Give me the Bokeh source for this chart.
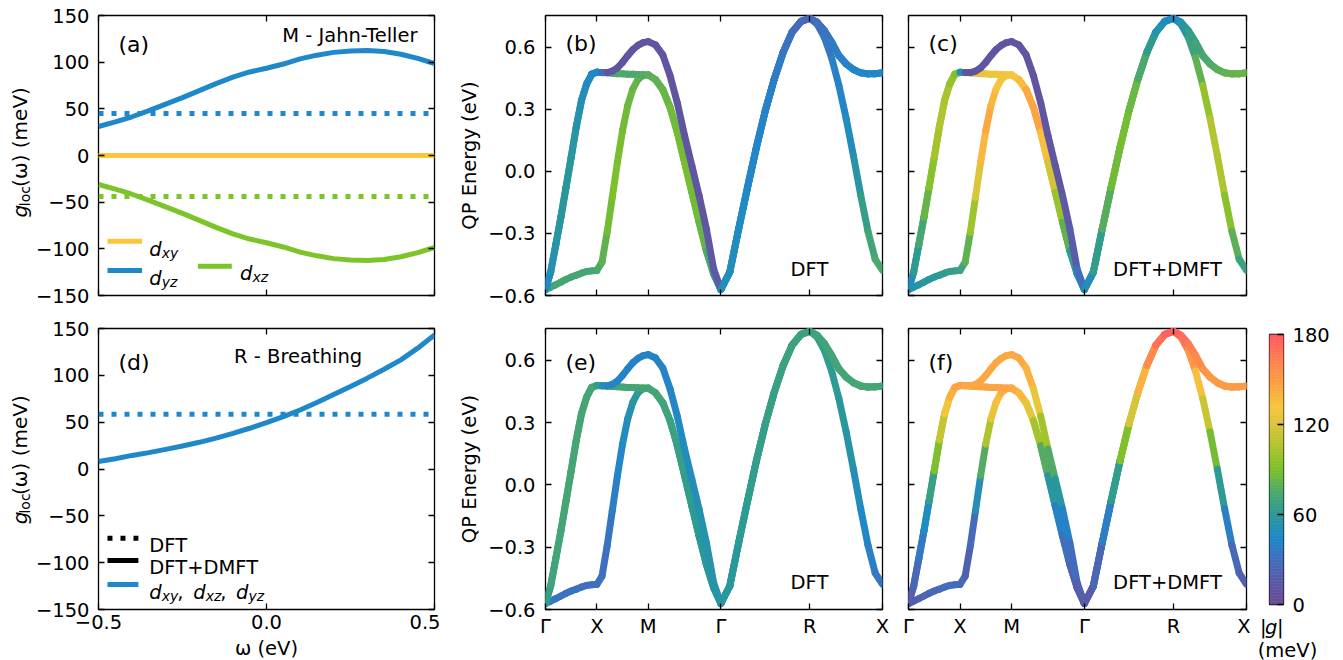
import numpy as np
from bokeh.plotting import figure
from bokeh.models import (ColumnDataSource, FixedTicker, LinearAxis, Label,
                          Spacer, CustomJSTickFormatter)
from bokeh.layouts import row, column
from bokeh.transform import linear_cmap
from bokeh.embed import file_html
from bokeh.resources import INLINE

FONT = "DejaVu Sans"
FS = "19.5px"

# ---------------- data: local coupling g_loc(omega) ----------------
OMEGA = [-0.5, -0.45, -0.4, -0.35, -0.3, -0.25, -0.2, -0.15, -0.1, -0.05, 0.0,
         0.05, 0.1, 0.15, 0.2, 0.25, 0.3, 0.35, 0.4, 0.45, 0.5]
M_DYZ_DMFT = [31, 36, 41.5, 48, 55, 62, 69.5, 77, 84, 89.5, 93.5,
              98, 103.5, 107.5, 110.5, 112, 112.5, 111.5, 108.5, 104, 98.5]
M_DXZ_DMFT = [-31, -36, -41.5, -48, -55, -62, -69.5, -77, -84, -89.5, -93.5,
              -98, -103.5, -107.5, -110.5, -112, -112.5, -111.5, -108.5, -104, -98.5]
M_DXY_DMFT = [0] * 21
M_DYZ_DFT = 45
M_DXZ_DFT = -44
M_DXY_DFT = 0
R_ALL_DMFT = [8, 11, 14.5, 17.5, 21, 24.5, 28.5, 33, 38, 43.5, 49.5,
              56, 63, 71, 79.5, 88, 97, 106.5, 116.5, 129, 143]
R_ALL_DFT = 58.5

# ---------------- data: QP bands along the k-path ----------------
KPTS = [0.0, 0.5, 1.0, 1.7071, 2.5731, 3.2802]
KLABELS = ["Γ", "X", "M", "Γ", "R", "X"]

E_A_GX = [-0.571, -0.487, -0.355, -0.221, -0.077, 0.068, 0.216, 0.342, 0.422, 0.469, 0.479]
E_B_GX = [-0.571, -0.560, -0.548, -0.535, -0.522, -0.511, -0.502, -0.492, -0.484, -0.481, -0.479]
E_C_XM = [0.479, 0.477, 0.477, 0.484, 0.500, 0.527, 0.559, 0.588, 0.609, 0.622, 0.627]
E_D_XM = [0.479, 0.477, 0.476, 0.474, 0.472, 0.471, 0.469, 0.469, 0.468, 0.467, 0.466]
E_B_XM = [-0.479, -0.439, -0.294, -0.125, 0.044, 0.197, 0.318, 0.398, 0.444, 0.463, 0.466]
E_C_MG = [0.627, 0.611, 0.563, 0.463, 0.331, 0.173, 0.028, -0.117, -0.278, -0.471, -0.571]
E_D_MG = [0.466, 0.443, 0.395, 0.310, 0.189, 0.044, -0.101, -0.246, -0.383, -0.495, -0.571]
E_T_GR = [-0.571, -0.487, -0.278, -0.077, 0.117, 0.294, 0.446, 0.575, 0.672, 0.724, 0.740]
E_U_RX = [0.740, 0.720, 0.680, 0.624, 0.559, 0.519, 0.492, 0.476, 0.471, 0.472, 0.476]
E_L_RX = [0.740, 0.712, 0.648, 0.548, 0.415, 0.255, 0.075, -0.115, -0.290, -0.425, -0.479]

# |g| (meV) along the bands: (b) M-mode DFT
GB = dict(
    A_GX=[45, 50, 55, 58, 58, 58, 56, 52, 48, 45, 45],
    B_GX=[60, 68, 70, 72, 72, 72, 72, 72, 72, 72, 72],
    C_XM=[45, 45, 10, 10, 10, 10, 10, 10, 10, 10, 10],
    D_XM=[45, 75, 75, 75, 75, 75, 75, 75, 75, 76, 78],
    B_XM=[72, 78, 85, 90, 90, 88, 86, 84, 82, 80, 78],
    C_MG=[10, 10, 10, 10, 10, 10, 10, 10, 12, 14, 15],
    D_MG=[78, 80, 83, 85, 87, 88, 88, 86, 80, 70, 55],
    T_GR=[50, 50, 48, 45, 43, 42, 40, 35, 30, 27, 25],
    U_RX=[25, 28, 32, 36, 40, 42, 43, 44, 44, 44, 44],
    L_RX=[25, 28, 33, 38, 42, 45, 52, 60, 68, 74, 76],
)
# (c) M-mode DFT+DMFT
GC = dict(
    A_GX=[45, 55, 68, 78, 88, 98, 106, 106, 100, 94, 90],
    B_GX=[45, 50, 55, 57, 58, 58, 60, 62, 64, 65, 65],
    C_XM=[90, 10, 10, 10, 10, 10, 10, 10, 10, 10, 10],
    D_XM=[90, 122, 125, 125, 125, 125, 126, 127, 128, 130, 130],
    B_XM=[65, 72, 90, 110, 130, 148, 142, 135, 130, 130, 130],
    C_MG=[10, 10, 10, 10, 10, 10, 10, 12, 15, 20, 40],
    D_MG=[130, 132, 140, 148, 145, 125, 108, 90, 72, 55, 45],
    T_GR=[45, 55, 72, 85, 88, 88, 82, 68, 55, 48, 45],
    U_RX=[45, 52, 60, 68, 72, 75, 78, 80, 82, 83, 84],
    L_RX=[45, 50, 62, 75, 88, 105, 110, 100, 88, 72, 62],
)
# (e) R-mode DFT
GE = dict(
    A_GX=[62, 68, 70, 72, 72, 72, 72, 72, 72, 72, 72],
    B_GX=[50, 40, 35, 33, 32, 32, 32, 31, 30, 30, 30],
    C_XM=[72, 55, 45, 42, 42, 42, 42, 42, 42, 42, 42],
    D_XM=[72, 72, 72, 72, 72, 72, 72, 72, 72, 72, 72],
    B_XM=[30, 30, 32, 36, 42, 46, 50, 55, 60, 65, 70],
    C_MG=[42, 42, 42, 43, 45, 48, 50, 52, 54, 55, 56],
    D_MG=[72, 72, 70, 68, 66, 64, 62, 60, 58, 57, 56],
    T_GR=[56, 58, 60, 62, 64, 65, 66, 67, 68, 68, 68],
    U_RX=[68, 69, 70, 70, 71, 71, 72, 72, 72, 72, 72],
    L_RX=[68, 66, 64, 62, 60, 57, 53, 48, 42, 37, 34],
)
# (f) R-mode DFT+DMFT
GF = dict(
    A_GX=[15, 22, 30, 42, 55, 78, 102, 122, 138, 145, 148],
    B_GX=[15, 18, 20, 22, 24, 25, 26, 27, 28, 28, 28],
    C_XM=[148, 146, 145, 145, 145, 145, 145, 145, 145, 145, 145],
    D_XM=[148, 147, 146, 146, 146, 146, 146, 146, 146, 146, 146],
    B_XM=[28, 22, 18, 38, 62, 92, 118, 132, 140, 145, 146],
    C_MG=[145, 145, 142, 138, 115, 88, 65, 48, 35, 22, 15],
    D_MG=[146, 142, 135, 115, 90, 66, 48, 35, 25, 18, 15],
    T_GR=[15, 18, 30, 48, 78, 105, 130, 150, 165, 175, 178],
    U_RX=[178, 175, 168, 160, 155, 152, 150, 150, 150, 150, 150],
    L_RX=[178, 172, 160, 145, 125, 100, 75, 48, 32, 20, 18],
)
ENERGY = dict(A_GX=E_A_GX, B_GX=E_B_GX, C_XM=E_C_XM, D_XM=E_D_XM, B_XM=E_B_XM,
              C_MG=E_C_MG, D_MG=E_D_MG, T_GR=E_T_GR, U_RX=E_U_RX, L_RX=E_L_RX)
# which branch each band follows on the 5 path segments (drawn back to front)
BANDS = [
    ["B_GX", "B_XM", "D_MG", "T_GR", "L_RX"],
    ["A_GX", "D_XM", "D_MG", "T_GR", "U_RX"],
    ["A_GX", "C_XM", "C_MG", "T_GR", "U_RX"],
]
CB_TICKS = [0, 60, 120, 180]

# ---------------- styles ----------------
YEL, BLUE, GREEN = "#fbc53f", "#1f88cb", "#7dc42b"
ANCHORS = [(0, "#6a4c93"), (15, "#5b5aa6"), (30, "#3f6fbf"), (45, "#1f88c9"),
           (60, "#2a9a95"), (75, "#4da86c"), (90, "#7cc02b"), (105, "#aec42e"),
           (120, "#dcc53a"), (132, "#f7c63c"), (150, "#fd9c45"), (165, "#ff7d52"),
           (180, "#ff5a5f")]


def build_palette(n=256):
    av = np.array([a[0] for a in ANCHORS], float)
    rgb = np.array([[int(h[i:i + 2], 16) for i in (1, 3, 5)] for _, h in ANCHORS], float)
    out = []
    for v in np.linspace(0, 180, n):
        c = [int(round(np.interp(v, av, rgb[:, j]))) for j in range(3)]
        out.append("#%02x%02x%02x" % tuple(c))
    return out


PALETTE = build_palette()

BAND_Y = (-0.6, 0.753)
GEO = {
    "a": dict(L=97, T=15, W=337, H=280, x=(-0.5, 0.5), y=(-150, 150)),
    "b": dict(L=545, T=15, W=337, H=280, x=(0, KPTS[-1]), y=BAND_Y),
    "c": dict(L=908, T=15, W=338, H=280, x=(0, KPTS[-1]), y=BAND_Y),
    "d": dict(L=97, T=328, W=337, H=281, x=(-0.5, 0.5), y=(-150, 150)),
    "e": dict(L=545, T=328, W=337, H=281, x=(0, KPTS[-1]), y=BAND_Y),
    "f": dict(L=908, T=328, W=338, H=281, x=(0, KPTS[-1]), y=BAND_Y),
    "cb": dict(L=1269, T=334, W=14, H=270, x=(0, 1), y=(0, 180)),
}


def dx(g, px):
    return g["x"][0] + (px - g["L"]) / g["W"] * (g["x"][1] - g["x"][0])


def dy(g, py):
    return g["y"][1] - (py - g["T"]) / g["H"] * (g["y"][1] - g["y"][0])


def label(p, g, px, py, text, size=FS, style="normal", align="left",
          baseline="middle", angle=0.0):
    p.add_layout(Label(x=dx(g, px), y=dy(g, py), text=text, text_font=FONT,
                       text_font_size=size, text_font_style=style,
                       text_align=align, text_baseline=baseline, angle=angle,
                       text_color="black"))


def text_fig(x0, y0, w, h):
    """A bare figure whose frame is the whole canvas, used to hold texts."""
    g = dict(L=x0, T=y0, W=w, H=h, x=(x0, x0 + w), y=(y0 + h, y0))
    p = figure(width=w, height=h, x_range=g["x"], y_range=g["y"],
               output_backend="svg", toolbar_location=None,
               x_axis_location=None, y_axis_location=None,
               min_border_left=0, min_border_right=0,
               min_border_top=0, min_border_bottom=0)
    p.grid.visible = False
    p.outline_line_color = None
    p.border_fill_color = "white"
    p.background_fill_color = "white"
    return p, g


NUM0 = "return tick.toFixed(0).replace('-', '\u2212');"
NUM1 = "return tick.toFixed(1).replace('-', '\u2212');"
KLAB = "const i = ks.findIndex(k => Math.abs(k - tick) < 1e-6); return i < 0 ? '' : labs[i];"
EMPTY = "return '';"


def style_axis(ax, ticks, code, show=True, standoff=8, args=None):
    ax.ticker = FixedTicker(ticks=ticks)
    ax.formatter = CustomJSTickFormatter(code=code if show else EMPTY, args=args or {})
    ax.major_tick_in = 6
    ax.major_tick_out = 0
    ax.major_tick_line_color = "black"
    ax.major_tick_line_width = 1.3
    ax.minor_tick_line_color = None
    ax.axis_line_color = None
    ax.major_label_text_font = FONT
    ax.major_label_text_color = "black"
    if show:
        ax.major_label_text_font_size = FS
        ax.major_label_standoff = standoff
    else:
        ax.major_label_text_font_size = "0px"
        ax.major_label_standoff = 0


def make_fig(g, width, height, bl, br, bt, bb):
    p = figure(width=width, height=height, x_range=g["x"], y_range=g["y"],
               output_backend="svg", toolbar_location=None,
               min_border_left=bl, min_border_right=br,
               min_border_top=bt, min_border_bottom=bb)
    p.grid.visible = False
    p.outline_line_color = "black"
    p.outline_line_width = 1.3
    p.background_fill_color = "white"
    p.border_fill_color = "white"
    return p


def add_box_axes(p, xt, yt, xcode, ycode, showx, showy, xargs=None, xstand=5, ystand=9):
    style_axis(p.xaxis[0], xt, xcode, showx, xstand, xargs)
    style_axis(p.yaxis[0], yt, ycode, showy, ystand)
    top = LinearAxis()
    style_axis(top, xt, xcode, False)
    p.add_layout(top, "above")
    right = LinearAxis()
    style_axis(right, yt, ycode, False)
    p.add_layout(right, "right")


# ---------------- left panels ----------------
G_TICKS = [-150, -100, -50, 0, 50, 100, 150]
W_TICKS = [-0.5, 0.0, 0.5]


def ylabel_gloc(p, g, cy):
    rot = np.pi / 2
    label(p, g, 19, cy + 70, "g", size="20px", style="italic", angle=rot)
    label(p, g, 24, cy + 57.5, "loc", size="14px", angle=rot)
    label(p, g, 19, cy + 36, "(ω) (meV)", size="20px", angle=rot)


def sub_text(p, g, x, yb, sub):
    label(p, g, x, yb, "d", style="italic", baseline="alphabetic")
    label(p, g, x + 12.5, yb + 3.5, sub, size="14px", style="italic", baseline="alphabetic")


LAB_W = 32
lab_a, g_la = text_fig(0, 0, LAB_W, 312)
ylabel_gloc(lab_a, g_la, 155)
lab_d, g_ld = text_fig(0, 312, LAB_W, 325)
ylabel_gloc(lab_d, g_ld, 468.5)
lab_w, g_lw = text_fig(0, 637, 440, 23)
label(lab_w, g_lw, 266, 647.5, "ω (eV)", align="center")

ga = GEO["a"]
fa = make_fig(ga, 440 - LAB_W, 312, 97 - LAB_W, 6, 15, 17)
add_box_axes(fa, W_TICKS, G_TICKS, NUM1, NUM0, False, True)
x_ends = [OMEGA[0], OMEGA[-1]]
fa.line(x_ends, [M_DYZ_DFT] * 2, line_color=BLUE, line_width=5, line_dash="5 8")
fa.line(x_ends, [M_DXZ_DFT] * 2, line_color=GREEN, line_width=5, line_dash="5 8")
fa.line(x_ends, [M_DXY_DFT] * 2, line_color=YEL, line_width=5, line_dash="5 8")
fa.line(OMEGA, M_DXY_DMFT, line_color=YEL, line_width=5)
fa.line(OMEGA, M_DYZ_DMFT, line_color=BLUE, line_width=5)
fa.line(OMEGA, M_DXZ_DMFT, line_color=GREEN, line_width=5)
fa.line([dx(ga, 106), dx(ga, 140.7)], [dy(ga, 240.7)] * 2, line_color=YEL, line_width=5)
fa.line([dx(ga, 106), dx(ga, 140.7)], [dy(ga, 270)] * 2, line_color=BLUE, line_width=5)
fa.line([dx(ga, 196.7), dx(ga, 230.7)], [dy(ga, 265.7)] * 2, line_color=GREEN, line_width=5)
sub_text(fa, ga, 148, 249, "xy")
sub_text(fa, ga, 148, 277.7, "yz")
sub_text(fa, ga, 239, 272.7, "xz")
label(fa, ga, 117, 44, "(a)", size="22px")
label(fa, ga, 417, 35, "M - Jahn-Teller", align="right")

gd = GEO["d"]
fd = make_fig(gd, 440 - LAB_W, 325, 97 - LAB_W, 6, 16, 28)
add_box_axes(fd, W_TICKS, G_TICKS, NUM1, NUM0, True, True)
fd.line(x_ends, [R_ALL_DFT] * 2, line_color=BLUE, line_width=5, line_dash="5 8")
fd.line(OMEGA, R_ALL_DMFT, line_color=BLUE, line_width=5)
fd.line([dx(gd, 106), dx(gd, 137)], [dy(gd, 537.7)] * 2, line_color="black", line_width=5, line_dash="5 8")
fd.line([dx(gd, 106), dx(gd, 137)], [dy(gd, 560)] * 2, line_color="black", line_width=5)
fd.line([dx(gd, 106), dx(gd, 137)], [dy(gd, 584)] * 2, line_color=BLUE, line_width=5)
label(fd, gd, 148, 545, "DFT", baseline="alphabetic")
label(fd, gd, 148, 567.3, "DFT+DMFT", baseline="alphabetic")
for xd, sub, xc in [(148, "xy", 176), (192, "xz", 219), (235, "yz", None)]:
    sub_text(fd, gd, xd, 591.7, sub)
    if xc is not None:
        label(fd, gd, xc, 591.7, ",", baseline="alphabetic")
label(fd, gd, 117, 361.7, "(d)", size="22px")
label(fd, gd, 233, 355.7, "R - Breathing")

# ---------------- band panels ----------------
E_TICKS = [-0.6, -0.3, 0.0, 0.3, 0.6]


def band_source(gset):
    x0, y0, x1, y1, gg = [], [], [], [], []
    for band in BANDS:
        for s, key in enumerate(band):
            ks = np.linspace(KPTS[s], KPTS[s + 1], len(ENERGY[key]))
            es = ENERGY[key]
            gs = gset[key]
            for i in range(len(ks) - 1):
                x0.append(ks[i]); x1.append(ks[i + 1])
                y0.append(es[i]); y1.append(es[i + 1])
                gg.append(0.5 * (gs[i] + gs[i + 1]))
    return ColumnDataSource(dict(x0=x0, y0=y0, x1=x1, y1=y1, g=gg))


def band_fig(key, gset, width, height, bl, br, bt, bb, showx, showy, tag, note, note_x, yoff):
    g = GEO[key]
    p = make_fig(g, width, height, bl, br, bt, bb)
    add_box_axes(p, KPTS, E_TICKS, KLAB, NUM1, showx, showy,
                 xargs=dict(ks=KPTS, labs=KLABELS), xstand=5, ystand=10)
    if showy:
        p.yaxis[0].axis_label = "QP Energy (eV)"
        p.yaxis[0].axis_label_text_font = FONT
        p.yaxis[0].axis_label_text_font_size = FS
        p.yaxis[0].axis_label_text_font_style = "normal"
        p.yaxis[0].axis_label_text_color = "black"
        p.yaxis[0].axis_label_standoff = 4
    p.segment("x0", "y0", "x1", "y1", source=band_source(gset),
              line_color=linear_cmap("g", PALETTE, 0, 180), line_width=7,
              line_cap="round")
    label(p, g, g["L"] + 20, g["T"] + yoff, tag, size="22px")
    label(p, g, note_x, g["T"] + 253.5, note, align="center")
    return p


fb = band_fig("b", GB, 450, 312, 105, 8, 15, 17, False, True, "(b)", "DFT", 809, 28.3)
fc = band_fig("c", GC, 360, 312, 18, 4, 15, 17, False, False, "(c)", "DFT+DMFT", 1167, 28.3)
fe = band_fig("e", GE, 450, 348, 105, 8, 16, 51, True, True, "(e)", "DFT", 809, 33.7)
ff = band_fig("f", GF, 360, 348, 18, 4, 16, 51, True, False, "(f)", "DFT+DMFT", 1167, 33.7)

# ---------------- colour bar ----------------
gcb = GEO["cb"]
fcb = figure(width=93, height=304, x_range=gcb["x"], y_range=gcb["y"],
             output_backend="svg", toolbar_location=None,
             x_axis_location=None, y_axis_location="right",
             min_border_left=19, min_border_right=60,
             min_border_top=22, min_border_bottom=12)
fcb.grid.visible = False
fcb.outline_line_color = "black"
fcb.outline_line_width = 1.3
fcb.border_fill_color = "white"
lo = list(range(0, 180))
cb_src = ColumnDataSource(dict(lo=lo, hi=[v + 1 for v in lo], v=[v + 0.5 for v in lo]))
cm = linear_cmap("v", PALETTE, 0, 180)
fcb.quad(left=0, right=1, bottom="lo", top="hi", source=cb_src,
         fill_color=cm, line_color=cm, line_width=0.6)
style_axis(fcb.yaxis[0], CB_TICKS, NUM0, True, 9)

lab_g, g_lg = text_fig(1250, 616, 93, 44)
label(lab_g, g_lg, 1259.5, 627, "|")
label(lab_g, g_lg, 1264.5, 627, "g", style="italic")
label(lab_g, g_lg, 1276.5, 627, "|")
label(lab_g, g_lg, 1287, 649.5, "(meV)", align="center")

col1 = column(row(lab_a, fa), row(lab_d, fd), lab_w)
col2 = column(fb, fe)
col3 = column(fc, ff)
col4 = column(Spacer(width=93, height=312), fcb, row(lab_g))
layout = row(col1, col2, col3, col4)

open("out.html", "w").write(file_html(layout, INLINE))
